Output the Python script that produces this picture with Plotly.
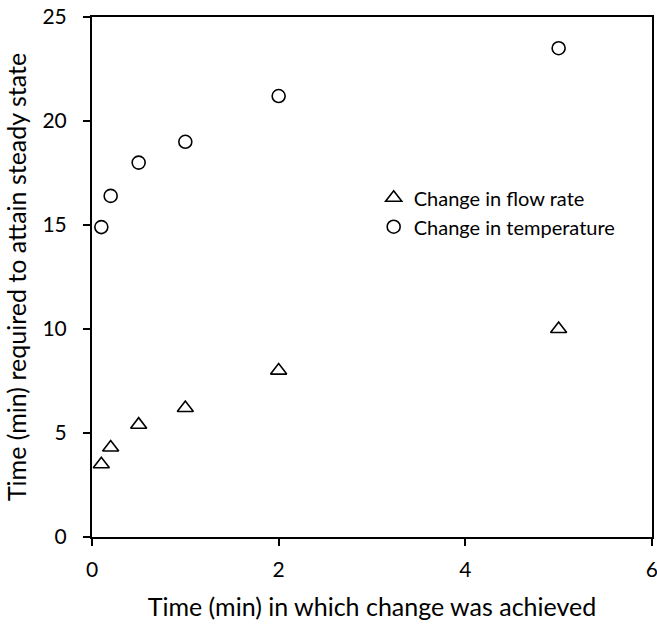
import plotly.graph_objects as go

x_vals = [0.1, 0.2, 0.5, 1, 2, 5]
flow_rate = [3.5, 4.3, 5.4, 6.2, 8.0, 10.0]
temperature = [14.9, 16.4, 18.0, 19.0, 21.2, 23.5]
x_ticks = [0, 2, 4, 6]

font_family = "Lato, 'Open Sans', sans-serif"

fig = go.Figure()
fig.add_trace(go.Scatter(
    x=x_vals, y=flow_rate, mode="markers", name="Change in flow rate",
    marker=dict(symbol="triangle-up-open", size=14, color="black", line=dict(width=1.6, color="black")),
    cliponaxis=False,
))
fig.add_trace(go.Scatter(
    x=x_vals, y=temperature, mode="markers", name="Change in temperature",
    marker=dict(symbol="circle-open", size=13, color="black", line=dict(width=1.6, color="black")),
    cliponaxis=False,
))

fig.update_layout(
    width=657, height=626,
    margin=dict(l=92, r=5, t=17, b=89),
    plot_bgcolor="white", paper_bgcolor="white",
    font=dict(family=font_family, size=21, color="black"),
    showlegend=True,
    legend=dict(x=0.503, y=0.69, xanchor="left", yanchor="top",
                bgcolor="rgba(0,0,0,0)", font=dict(size=20),
                itemsizing="trace", itemwidth=30, tracegroupgap=0),
    xaxis=dict(range=[0, 6.0005], tickmode="array", tickvals=x_ticks,
               showgrid=False, zeroline=False,
               showline=True, linecolor="black", linewidth=2, mirror=True,
               ticks="outside", ticklen=7, tickwidth=2, tickcolor="black",
               ticklabelstandoff=6, automargin=False, ticklabeloverflow="allow",
               title=dict(text="Time (min) in which change was achieved", standoff=18)),
    yaxis=dict(range=[0, 25], dtick=5, showgrid=False, zeroline=False,
               showline=True, linecolor="black", linewidth=2, mirror=True,
               ticks="outside", ticklen=7, tickwidth=2, tickcolor="black",
               ticklabelstandoff=12, automargin=False,
               title=dict(text="Time (min) required to attain steady state", standoff=9)),
)

fig.write_html("out.html")
